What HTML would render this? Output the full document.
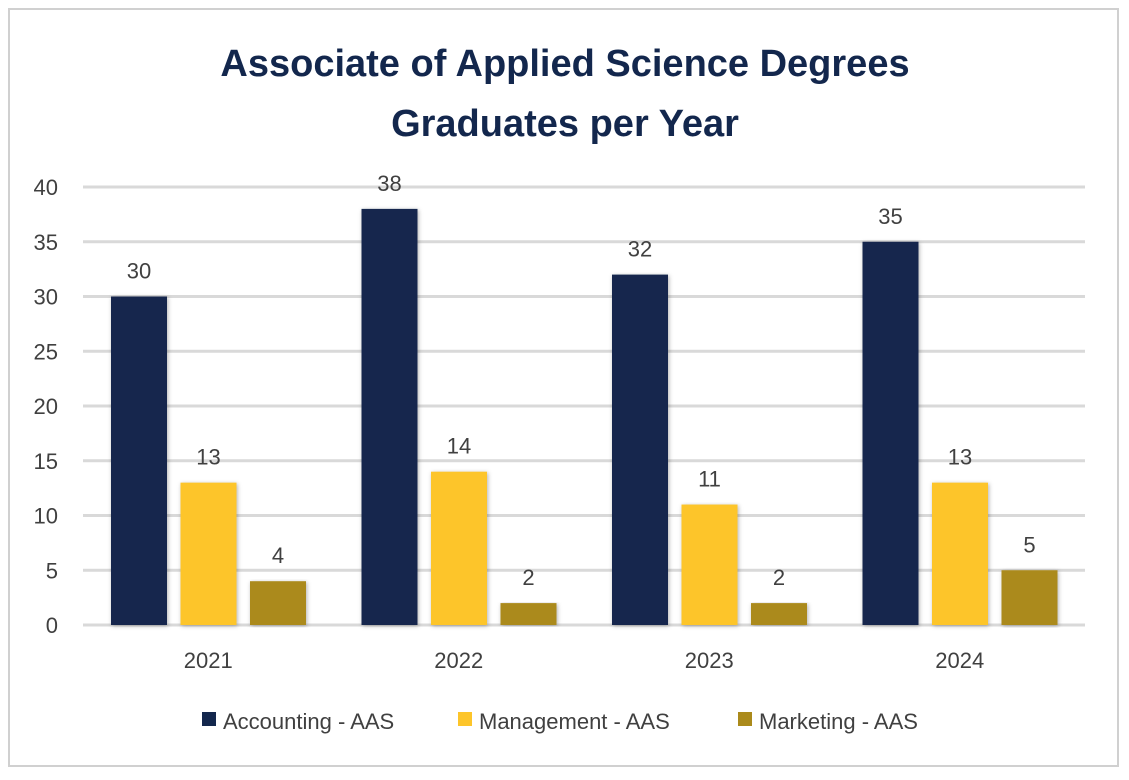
<!DOCTYPE html>
<html><head><meta charset="utf-8"><style>
body{margin:0;background:#fff;width:1129px;height:775px;overflow:hidden;font-family:"Liberation Sans",sans-serif}
</style></head><body>
<svg width="1129" height="775">
<defs><filter id="sh" x="-20%" y="-5%" width="140%" height="110%"><feDropShadow dx="1" dy="1" stdDeviation="2" flood-color="#000" flood-opacity="0.3"/></filter></defs>
<rect x="9" y="9" width="1109" height="757" fill="#fff" stroke="#d0d0d0" stroke-width="2"/>
<text x="565" y="76" text-anchor="middle" font-size="38" font-weight="bold" fill="#13274d">Associate of Applied Science Degrees</text>
<text x="565" y="136" text-anchor="middle" font-size="38" font-weight="bold" fill="#13274d">Graduates per Year</text>
<g id="grid"></g><g id="bars"></g><g id="labels"></g>
<g>
<rect x="202" y="712" width="14" height="14" fill="#13274d"/>
<text x="223" y="729" font-size="22" fill="#404040">Accounting - AAS</text>
<rect x="458" y="712" width="14" height="14" fill="#fdc52a"/>
<text x="479" y="729" font-size="22" fill="#404040">Management - AAS</text>
<rect x="738" y="712" width="14" height="14" fill="#ab8a1b"/>
<text x="759" y="729" font-size="22" fill="#404040">Marketing - AAS</text>
</g>
</svg>
<script>
const categories=["2021","2022","2023","2024"];
const accounting=[30,38,32,35];
const management=[13,14,11,13];
const marketing=[4,2,2,5];
const yTicks=[0,5,10,15,20,25,30,35,40];
const NS="http://www.w3.org/2000/svg";
const x0=83,x1=1085,y0=625,yTop=187,yMax=40;
const y=v=>y0-(v/yMax)*(y0-yTop);
const gw=(x1-x0)/categories.length;
function mk(t,a,p){const e=document.createElementNS(NS,t);for(const k in a)e.setAttribute(k,a[k]);p.appendChild(e);return e;}
const grid=document.getElementById('grid'),bars=document.getElementById('bars'),labels=document.getElementById('labels');
yTicks.forEach(t=>{
 const l=mk('line',{x1:x0,x2:x1,y1:y(t),y2:y(t),stroke:'#d9d9d9','stroke-width':3},grid);
 
 
 const tx=mk('text',{x:58,y:y(t)+8,'text-anchor':'end','font-size':22,fill:'#404040'},grid);
 tx.textContent=t;
 
 
});
const series=[["accounting",accounting,"#13274d"],["management",management,"#fdc52a"],["marketing",marketing,"#ab8a1b"]];
categories.forEach((c,i)=>{
 series.forEach((s,j)=>{
  const bx=x0+i*gw+28+j*69.5, v=s[1][i];
  const r=mk('rect',{x:bx,y:y(v),width:56,height:y0-y(v),fill:s[2],filter:'url(#sh)'},bars);
  
  
  const t=mk('text',{x:bx+28,y:y(v)-18,'text-anchor':'middle','font-size':22,fill:'#404040'},labels);
  t.textContent=v;
  
  
 });
 const t=mk('text',{x:x0+i*gw+gw/2,y:668,'text-anchor':'middle','font-size':22,fill:'#404040'},labels);
 t.textContent=c;
 
 
});
</script>
</body></html>
